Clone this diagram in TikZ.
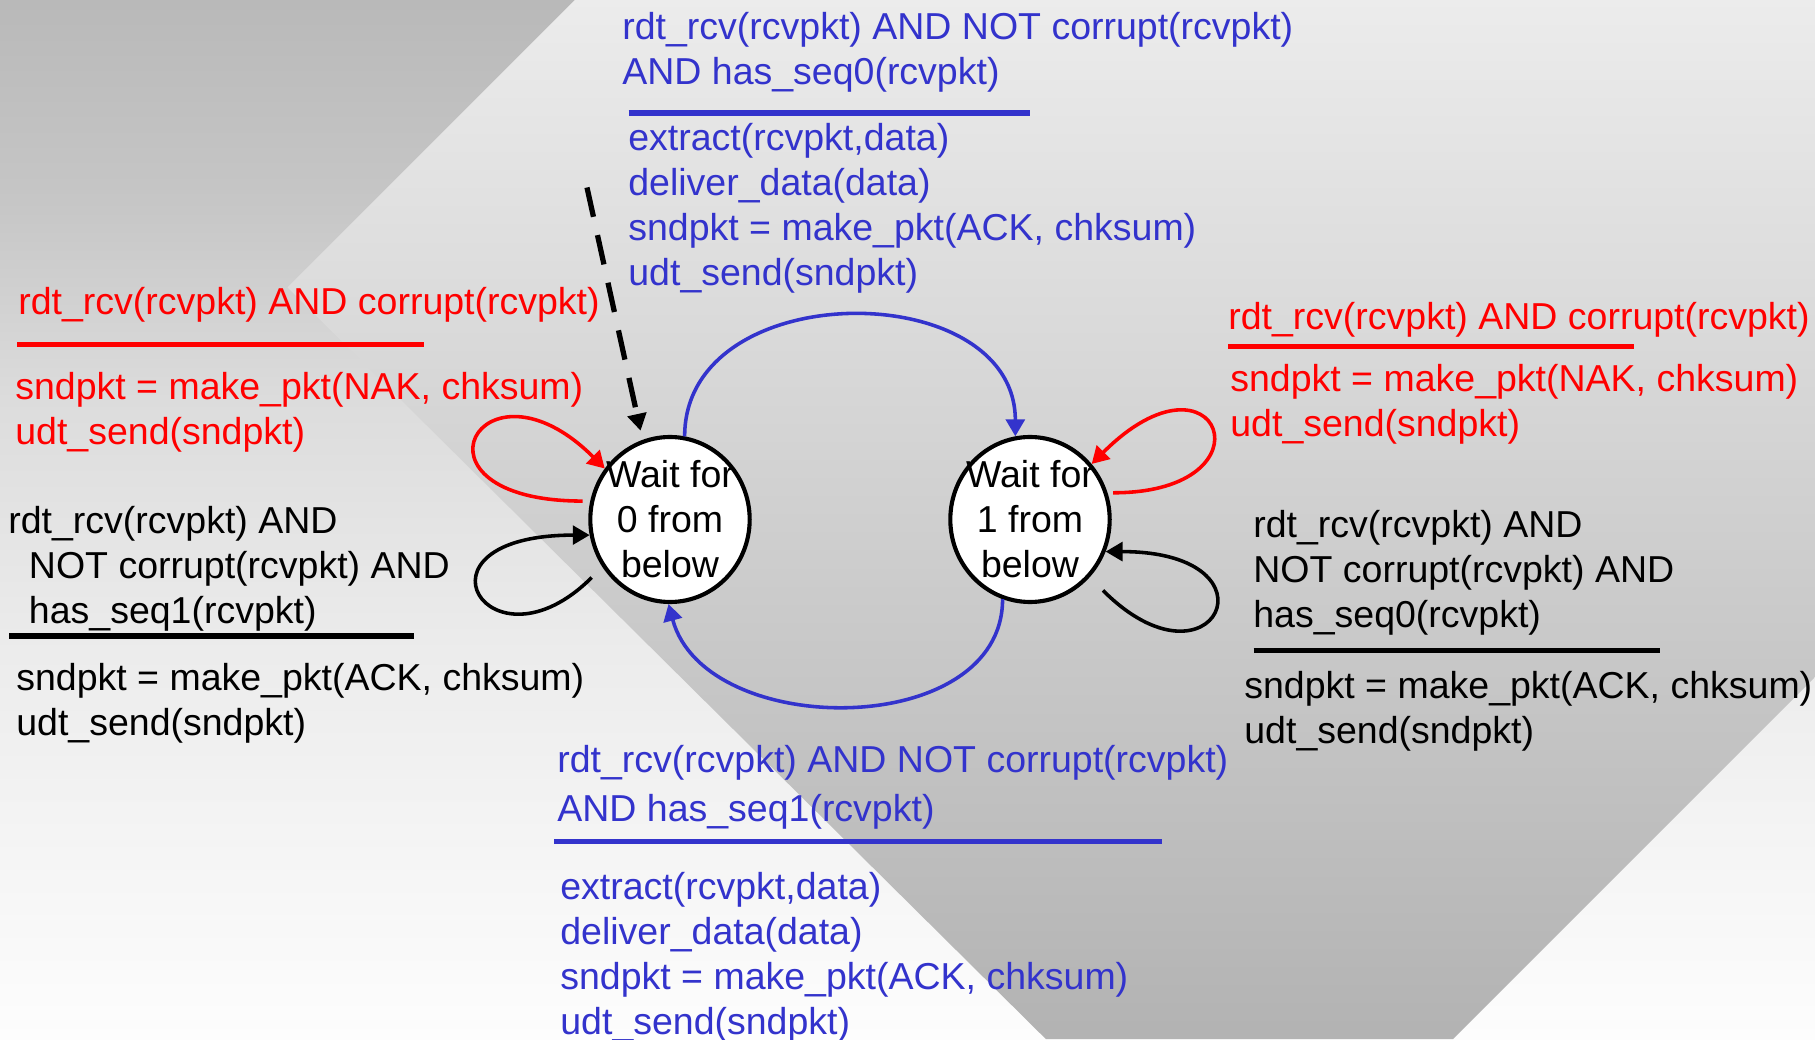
\documentclass[tikz,border=0pt]{standalone}
\usepackage{tikz}
\usepackage{fontspec}
\setmainfont{Liberation Sans}
\usetikzlibrary{shapes.geometric,arrows.meta}
\definecolor{azul}{RGB}{51,51,204}
\definecolor{rojo}{RGB}{255,0,0}
\definecolor{grisA}{gray}{0.992}
\definecolor{grisB}{gray}{0.925}
\definecolor{grisC}{gray}{0.863}
\definecolor{grisD}{gray}{0.776}
\definecolor{grisE}{gray}{0.725}
\definecolor{grisF}{gray}{0.70}
\pgfdeclareverticalshading{fondo}{100bp}{color(0bp)=(grisA); color(25bp)=(grisA);
  color(43.7bp)=(grisB); color(55.75bp)=(grisC); color(65.4bp)=(grisD);
  color(75bp)=(grisE); color(100bp)=(grisE)}
\pgfdeclareverticalshading{rombo}{100bp}{color(0bp)=(grisF); color(25bp)=(grisF);
  color(75bp)=(grisB); color(100bp)=(grisB)}
\tikzstyle{estado}=[draw, ellipse, fill=white, line width=2.2pt, minimum width=85pt,
  minimum height=88pt, inner xsep=-5pt, inner ysep=-1pt, align=center,
  font=\fontsize{20}{24}\selectfont]
\tikzstyle{texto}=[anchor=north west, inner sep=0pt, align=left,
  font=\fontsize{20}{24}\selectfont]
\tikzstyle{regla}=[line width=2.7pt]
\tikzstyle{line} = [draw, line width=1.9pt, -{Triangle[length=9pt,width=10pt]}]
\newcommand{\espera}[1]{node (s#1) [estado]
  {Wait for\\#1 from\\below}}

\begin{document}
\begin{tikzpicture}[x=1.8745cm, y=1.8745cm]

  % Background
  \useasboundingbox (0,0) rectangle (18.15,10.39);
  \shade[shading=fondo] (0,0) rectangle (18.15,10.39);
  \shade[shading=rombo] (5.75,10.39) -- (2.875,7.515) -- (10.458,0) -- (14.53,0)
    -- (18.15,3.62) -- (18.15,10.39) -- cycle;

  % Draw diagram elements
  \path (6.70,5.195) \espera{0};
  \path (s0.center)+(3.60,0) \espera{1};

  \path (s0.center)+(-0.48,5.075) node (azul0c) [texto,azul]
    {rdt\_rcv(rcvpkt) AND NOT corrupt(rcvpkt)\\AND has\_seq0(rcvpkt)};
  \path (s0.center)+(-0.42,3.965) node (azul0a) [texto,azul]
    {extract(rcvpkt,data)\\deliver\_data(data)\\sndpkt = make\_pkt(ACK, chksum)\\udt\_send(sndpkt)};
  \path (s0.center)+(-6.52,2.321) node (rojo0c) [texto,rojo]
    {rdt\_rcv(rcvpkt) AND corrupt(rcvpkt)};
  \path (s0.center)+(-6.55,1.475) node (rojo0a) [texto,rojo]
    {sndpkt = make\_pkt(NAK, chksum)\\udt\_send(sndpkt)};
  \path (s0.center)+(-6.62,0.135) node (negro0c) [texto]
    {rdt\_rcv(rcvpkt) AND\\\hspace*{0.55em}NOT corrupt(rcvpkt) AND\\\hspace*{0.55em}has\_seq1(rcvpkt)};
  \path (s0.center)+(-6.54,-1.43) node (negro0a) [texto]
    {sndpkt = make\_pkt(ACK, chksum)\\udt\_send(sndpkt)};
  \path (s1.center)+(1.98,2.171) node (rojo1c) [texto,rojo]
    {rdt\_rcv(rcvpkt) AND corrupt(rcvpkt)};
  \path (s1.center)+(2.00,1.555) node (rojo1a) [texto,rojo]
    {sndpkt = make\_pkt(NAK, chksum)\\udt\_send(sndpkt)};
  \path (s1.center)+(2.23,0.098) node (negro1c) [texto]
    {rdt\_rcv(rcvpkt) AND\\NOT corrupt(rcvpkt) AND\\has\_seq0(rcvpkt)};
  \path (s1.center)+(2.14,-1.511) node (negro1a) [texto]
    {sndpkt = make\_pkt(ACK, chksum)\\udt\_send(sndpkt)};
  \path (s0.center)+(-1.13,-2.255) node (azul1c) [texto,azul]
    {rdt\_rcv(rcvpkt) AND NOT corrupt(rcvpkt)\\[2pt]AND has\_seq1(rcvpkt)};
  \path (s0.center)+(-1.10,-3.52) node (azul1a) [texto,azul]
    {extract(rcvpkt,data)\\deliver\_data(data)\\sndpkt = make\_pkt(ACK, chksum)\\udt\_send(sndpkt)};

  % rules between event and action
  \draw [regla,azul] (azul0c.south west)++(0.065,-0.203) -- +(4.015,0);
  \draw [regla,rojo] (rojo0c.south west)++(-0.006,-0.214) -- +(4.062,0);
  \draw [regla] (negro0c.south west)++(0.013,-0.043) -- +(4.051,0);
  \draw [regla,rojo] (rojo1c.south west)++(0,-0.086) -- +(4.064,0);
  \draw [regla] (negro1c.south west)++(0.006,-0.155) -- +(4.063,0);
  \draw [regla,azul] (azul1c.south west)++(-0.026,-0.122) -- +(6.077,0);

  % transitions
  \path (s0.center)+(-0.83,3.32) coordinate (ini);
  \path [line,line width=2.8pt,dash pattern=on 16pt off 10pt,shorten >=5pt] (ini) -- (s0.109);
  \path [line,azul] (s0.80) to[out=90,in=90,looseness=1.25] (s1.100);
  \path [line,azul] (s1.251) to[out=-90,in=-75,looseness=1.08] (s0.269);
  \path [line,rojo,shorten <=4pt] (s0.167) .. controls +(180:1.95) and +(135:1.75) .. (s0.142);
  \path [line,shorten <=8pt] (s0.215) .. controls +(225:1.6) and +(180:1.9) .. (s0.191);
  \path [line,rojo,shorten <=3pt] (s1.19) .. controls +(0:1.7) and +(45:1.8) .. (s1.42);
  \path [line,shorten <=10pt] (s1.316) .. controls +(-45:1.75) and +(0:1.8) .. (s1.337);
\end{tikzpicture}
\end{document}
